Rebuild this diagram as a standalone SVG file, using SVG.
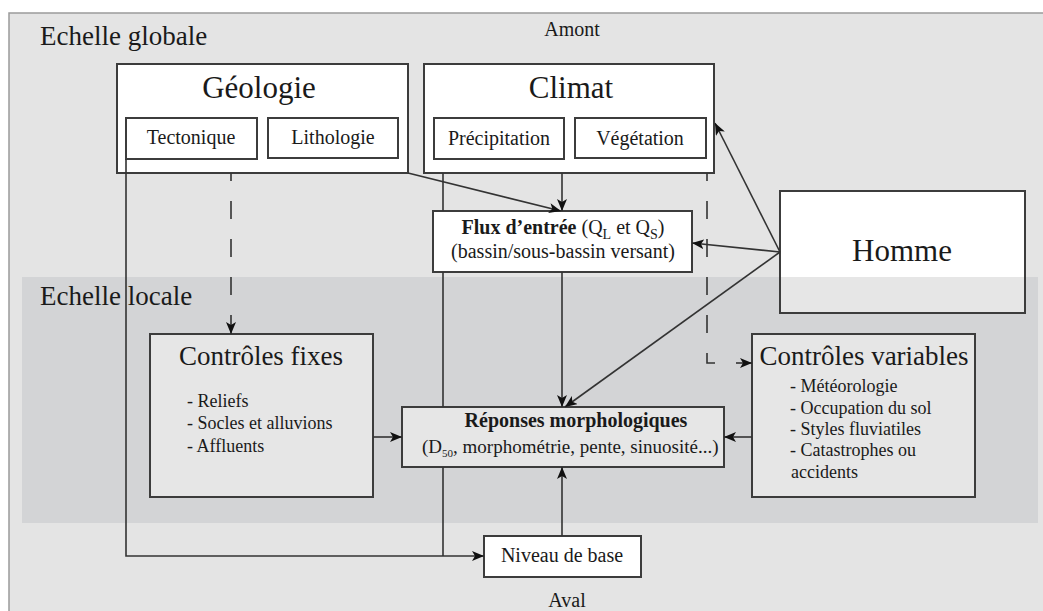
<svg xmlns="http://www.w3.org/2000/svg" width="1043" height="611" viewBox="0 0 1043 611">
<style>
text{font-family:"Liberation Serif","Times New Roman",serif;fill:#1a1a1a}
.box{stroke:#3c3c3c;stroke-width:2}
.w{fill:#ffffff}
.g{fill:#e6e6e6}
.t20{font-size:20px}
.t18{font-size:18px}
.t21{font-size:21px}
.big{font-size:31px}
.mid{font-size:27px}
.c{text-anchor:middle}
.ln{fill:none;stroke:#333;stroke-width:1.6}
.dash{fill:none;stroke:#333;stroke-width:1.6;stroke-dasharray:18 20;stroke-dashoffset:10}
</style>
<defs>
<marker id="arr" viewBox="0 0 12 10" refX="12" refY="5" markerWidth="12" markerHeight="10" markerUnits="userSpaceOnUse" orient="auto">
<path d="M0,0 L12,5 L0,10 L3,5 Z" fill="#111"/>
</marker>
</defs>
<rect x="0" y="0" width="1043" height="611" fill="#ffffff"/>
<rect x="9" y="13" width="1040" height="610" fill="#e4e4e4" stroke="#9a9a9a" stroke-width="1.5"/>
<rect x="22" y="277" width="1016" height="246" fill="#d3d4d6"/>
<text x="40" y="45" class="mid">Echelle globale</text>
<text x="40" y="305" class="mid">Echelle locale</text>
<text x="572" y="36" class="t20 c">Amont</text>
<text x="567" y="607" class="t20 c">Aval</text>

<g id="geologie">
<rect x="117" y="64" width="291" height="109" class="box w"/>
<text x="259" y="98" class="big c">Géologie</text>
<g id="tectonique"><rect x="126" y="118" width="131" height="41" class="box w"/><text x="191" y="144" class="t20 c">Tectonique</text></g>
<g id="lithologie"><rect x="268" y="118" width="130" height="40" class="box w"/><text x="333" y="144" class="t20 c">Lithologie</text></g>
</g>

<g id="climat">
<rect x="424" y="64" width="290" height="109" class="box w"/>
<text x="571" y="98" class="big c">Climat</text>
<g id="precipitation"><rect x="434" y="118" width="130" height="41" class="box w"/><text x="499" y="145" class="t20 c">Précipitation</text></g>
<g id="vegetation"><rect x="575" y="118" width="131" height="40" class="box w"/><text x="640" y="145" class="t20 c">Végétation</text></g>
</g>

<g id="flux">
<rect x="433" y="211" width="259" height="61" class="box w"/>
<text x="563" y="234" class="t20 c"><tspan font-weight="bold">Flux d’entrée</tspan> (Q<tspan dy="5" font-size="14">L</tspan><tspan dy="-5"> et Q</tspan><tspan dy="5" font-size="14">S</tspan><tspan dy="-5">)</tspan></text>
<text x="563" y="258" class="t20 c">(bassin/sous-bassin versant)</text>
</g>

<g id="homme">
<rect x="780" y="191" width="245" height="122" fill="#ffffff"/>
<rect x="780" y="277" width="245" height="36" fill="#e6e6e6"/>
<rect x="780" y="191" width="245" height="122" class="box" fill="none"/>
<text x="902" y="261" class="big c">Homme</text>
</g>

<g id="controles-fixes">
<rect x="150" y="334" width="223" height="163" class="box g"/>
<text x="261" y="365" class="mid c">Contrôles fixes</text>
<text x="187" y="407" class="t18">- Reliefs</text>
<text x="187" y="429" class="t18">- Socles et alluvions</text>
<text x="187" y="452" class="t18">- Affluents</text>
</g>

<g id="controles-variables">
<rect x="752" y="334" width="223" height="163" class="box g"/>
<text x="864" y="365" class="mid c">Contrôles variables</text>
<text x="790" y="392" class="t18">- Météorologie</text>
<text x="790" y="414" class="t18">- Occupation du sol</text>
<text x="790" y="435" class="t18">- Styles fluviatiles</text>
<text x="790" y="456" class="t18">- Catastrophes ou</text>
<text x="791" y="478" class="t18">accidents</text>
</g>

<g id="reponses">
<rect x="402" y="407" width="322" height="60" class="box g"/>
<text x="576" y="427" class="t20 c" font-weight="bold">Réponses morphologiques</text>
<text x="422" y="453" font-size="19">(D<tspan dy="4" font-size="11">50</tspan><tspan dy="-4">, morphométrie, pente, sinuosité...)</tspan></text>
</g>

<g id="niveau">
<rect x="484" y="536" width="157" height="41" class="box w"/>
<text x="562" y="562" class="t20 c">Niveau de base</text>
</g>

<g id="connectors">
<path d="M126,159 V556 H484" class="ln" marker-end="url(#arr)"/>
<path d="M443,173 V211" class="ln"/>
<path d="M443,272 V407" class="ln"/>
<path d="M443,467 V556" class="ln"/>
<path d="M408,173 L561,211" class="ln" marker-end="url(#arr)"/>
<path d="M562,173 V211" class="ln" marker-end="url(#arr)"/>
<path d="M562,272 V407" class="ln" marker-end="url(#arr)"/>
<path d="M562,536 V467" class="ln" marker-end="url(#arr)"/>
<path d="M780,252 L715,123" class="ln" marker-end="url(#arr)"/>
<path d="M780,252 L692,243" class="ln" marker-end="url(#arr)"/>
<path d="M780,252 L565,407" class="ln" marker-end="url(#arr)"/>
<path d="M373,437 H402" class="ln" marker-end="url(#arr)"/>
<path d="M752,437 H724" class="ln" marker-end="url(#arr)"/>
<path d="M231,173 V316" class="dash"/>
<path d="M231,316 V334" class="ln" marker-end="url(#arr)"/>
<path d="M707,173 V363 H716" class="dash"/>
<path d="M736,363 H752" class="ln" marker-end="url(#arr)"/>
</g>
</svg>
